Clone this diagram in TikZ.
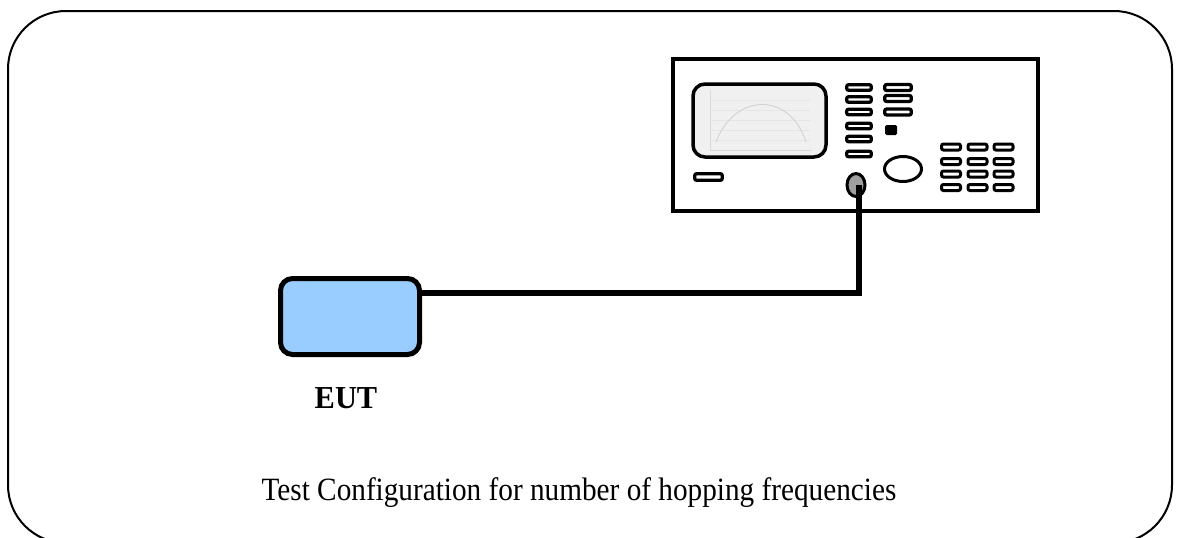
\documentclass[tikz,border=0pt]{standalone}
\usepackage{fontspec}
\setmainfont{Liberation Serif}
\usetikzlibrary{shapes.geometric}
\begin{document}
\begin{tikzpicture}[x=1pt,y=-1pt,
  btn/.style={draw=black,line width=3.3pt,rounded corners=2pt,fill=white},
  lbl/.style={inner sep=0pt}]
\useasboundingbox (0,0) rectangle (1179,538);
\begin{scope}
\clip (0,0) rectangle (1179,538);
\draw[line width=2pt,rounded corners=58pt] (8,11) rectangle (1172,543);
\end{scope}
% analyzer
\node[draw=black,line width=4pt,minimum width=365pt,minimum height=151.5pt,inner sep=0pt] (ana) at (855.5,135.2) {};
% screen
\draw[line width=3.5pt,rounded corners=12pt,fill=gray!12] (693,84) rectangle (826,157);
\begin{scope}[gray!30,line width=0.6pt]
\draw (710,90) -- (710,150) -- (812,150);
\foreach \yy in {100,110,120,130,140} \draw[gray!20] (712,\yy) -- (810,\yy);
\draw[line width=0.9pt,gray!35] (716,142) .. controls (735,92) and (790,92) .. (806,142);
\end{scope}
% button column 1
\foreach \yy in {87.5,99.5,112,126,139,154}
  \draw[btn] (846.7,\yy-2.8) rectangle (871.3,\yy+2.8);
% button column 2
\foreach \yy in {87.5,98.5,112}
  \draw[btn] (884.7,\yy-3) rectangle (911.3,\yy+3);
\fill[rounded corners=1.5pt] (885,125) rectangle (897,135);
% small slot
\draw[btn] (694.7,173.7) rectangle (722.3,180.3);
% knob
\node[draw=black,line width=3pt,ellipse,minimum width=37pt,minimum height=25pt,inner sep=0pt] (knob) at (903,169) {};
% keypad
\foreach \xx in {951,977.5,1003.5}
  \foreach \yy in {147,161.5,174,187.5}
    \draw[btn,line width=3pt] (\xx-9.5,\yy-3) rectangle (\xx+9.5,\yy+3);
% port
\node[draw=black,line width=3pt,ellipse,fill=gray!75!black!60,minimum width=18pt,minimum height=23pt,inner sep=0pt] (port) at (856,185) {};
% EUT
\node[draw=black,line width=5pt,rounded corners=12pt,fill={rgb,255:red,153;green,204;blue,255},minimum width=139pt,minimum height=76pt,inner sep=0pt] (eut) at (350,316.5) {};
\coordinate (cab) at (859,293);
\draw[line width=5.5pt] (port.center -| cab) -- (cab) -- (eut.east |- cab);
% labels
\node[lbl,font=\fontsize{32}{35}\selectfont\bfseries] (eutl) at (346,398.5) {\scalebox{0.95}[1]{EUT}};
\node[lbl,anchor=base,font=\fontsize{32.5}{35}\selectfont] (cap) at (579,500) {\scalebox{0.9}[1]{Test Configuration for number of hopping frequencies}};
\end{tikzpicture}
\end{document}
